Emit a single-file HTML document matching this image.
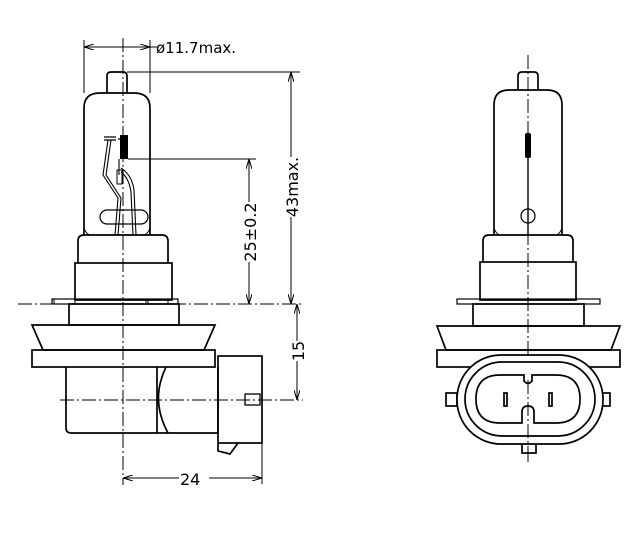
<!DOCTYPE html>
<html><head><style>html,body{margin:0;padding:0;background:#fff}svg{display:block}</style></head>
<body>
<svg width="633" height="555" viewBox="0 0 633 555" xmlns="http://www.w3.org/2000/svg" fill="none" stroke="#000" stroke-width="1.7" font-family="DejaVu Sans, Liberation Sans, sans-serif">
<defs><marker id="a" markerWidth="10" markerHeight="6" refX="10" refY="3" orient="auto-start-reverse" markerUnits="userSpaceOnUse"><path d="M0,0 L10,3 L0,6" fill="none" stroke="#000" stroke-width="1"/></marker></defs>
<g stroke-width="1" stroke-dasharray="14,3,2,3">
<line x1="123" y1="38" x2="123" y2="485"/>
<line x1="18" y1="304" x2="303" y2="304"/>
<line x1="60" y1="400" x2="303" y2="400"/>
<line x1="528" y1="55" x2="528" y2="462"/>
</g>
<!-- LEFT bulb -->
<path d="M107,93 V76 Q107,72 111,72 H123 Q127,72 127,76 V93"/>
<path d="M84,235 V108 Q84,93 100,93 H134 Q150,93 150,108 V235"/>
<path d="M84,228 Q86,234 90,235 M150,228 Q148,234 144,235" stroke-width="1"/>
<rect x="120" y="135" width="8" height="24" fill="#000" stroke="none"/>
<path d="M104,137 H116 M104,140 H116 M118,139 H120" stroke-width="1.2"/>
<path d="M108,140 L103,175 L118,198 L115,235 M111,140 L106,175 L121,198 L118,235" stroke-width="1.1"/>
<path d="M119,159 V175 M121,168 Q132,175 134,190 L136,235 M121,172 Q129,178 131,192 L133,235" stroke-width="1.1"/>
<rect x="117" y="170" width="5" height="14" stroke-width="1"/>
<rect x="100" y="210" width="48" height="14" rx="7" stroke-width="1.2"/>
<path d="M78,263 V241 Q78,235 84,235 H162 Q168,235 168,241 V263"/>
<rect x="75" y="263" width="97" height="37"/>
<rect x="52" y="299" width="126" height="5" stroke-width="1.2"/>
<path d="M54,299 V304 M75,299 V304 M146,299 V304 M148,299 V304 M168,299 V304" stroke-width="1"/>
<rect x="69" y="304" width="110" height="21"/>
<path d="M32,325 H215 L204,350 H43 Z"/>
<rect x="32" y="350" width="183" height="17"/>
<path d="M66,367 V428 Q66,433 71,433 H218 V367"/>
<path d="M157,367 V433 M166,367 Q150,400 168,433"/>
<rect x="218" y="356" width="44" height="87"/>
<rect x="245" y="394" width="15" height="11" stroke-width="1.3"/>
<path d="M218,443 V451 L230,454 L238,443"/>
<g stroke-width="1">
<line x1="84" y1="40" x2="84" y2="93"/>
<line x1="150" y1="40" x2="150" y2="93"/>
<line x1="84" y1="47" x2="150" y2="47" marker-start="url(#a)" marker-end="url(#a)"/>
<line x1="150" y1="47" x2="157" y2="47"/>
<line x1="127" y1="72" x2="300" y2="72"/>
<line x1="291" y1="72" x2="291" y2="304" marker-start="url(#a)" marker-end="url(#a)"/>
<line x1="128" y1="159" x2="256" y2="159"/>
<line x1="249" y1="159" x2="249" y2="304" marker-start="url(#a)" marker-end="url(#a)"/>
<line x1="297" y1="304" x2="297" y2="400" marker-start="url(#a)" marker-end="url(#a)"/>
<line x1="262" y1="443" x2="262" y2="484"/>
<line x1="123" y1="478" x2="262" y2="478" marker-start="url(#a)" marker-end="url(#a)"/>
</g>
<g fill="#000" stroke="none">
<text x="156" y="53" font-size="15">ø11.7max.</text>
<rect x="179" y="470" width="30" height="14" fill="#fff"/>
<text x="180" y="485" font-size="16">24</text>
<g transform="translate(256,232) rotate(-90)"><rect x="-30" y="-14" width="60" height="15" fill="#fff"/><text x="0" y="0" text-anchor="middle" font-size="16">25±0.2</text></g>
<g transform="translate(298,187) rotate(-90)"><rect x="-30" y="-14" width="60" height="15" fill="#fff"/><text x="0" y="0" text-anchor="middle" font-size="16">43max.</text></g>
<g transform="translate(304,351) rotate(-90)"><rect x="-10" y="-14" width="20" height="15" fill="#fff"/><text x="0" y="0" text-anchor="middle" font-size="16">15</text></g>
</g>
<!-- RIGHT bulb -->
<path d="M518,90 V76 Q518,72 522,72 H534 Q538,72 538,76 V90"/>
<path d="M494,235 V105 Q494,90 509,90 H547 Q562,90 562,105 V235"/>
<path d="M494,228 Q496,234 500,235 M562,228 Q560,234 556,235" stroke-width="1"/>
<rect x="525" y="133" width="6" height="25" rx="2" fill="#000" stroke="none"/>
<line x1="528" y1="158" x2="528" y2="235" stroke-width="1.4"/>
<circle cx="528" cy="216" r="7" stroke-width="1.2"/>
<path d="M483,262 V241 Q483,235 489,235 H567 Q573,235 573,241 V262"/>
<rect x="480" y="262" width="96" height="38"/>
<rect x="457" y="299" width="143" height="5" stroke-width="1.2"/>
<rect x="473" y="304" width="111" height="22"/>
<path d="M437,326 H620 L611,350 H446 Z"/>
<rect x="437" y="350" width="183" height="17"/>
<rect x="446" y="393" width="11" height="13"/>
<rect x="598" y="393" width="12" height="13"/>
<rect x="522" y="443" width="14" height="10"/>
<rect x="457" y="355" width="146" height="89" rx="44" fill="#fff"/>
<rect x="465" y="362" width="130" height="74" rx="37"/>
<path d="M500,375 H524 V381 Q528,386 532,381 V375 H556 Q580,375 580,399 Q580,423 556,423 H534 V412 Q534,406 528,406 Q522,406 522,412 V423 H500 Q476,423 476,399 Q476,375 500,375 Z"/>
<rect x="504" y="393" width="3" height="13"/>
<rect x="549" y="393" width="3" height="13"/>
<line x1="528" y1="380" x2="528" y2="462" stroke-width="1" stroke-dasharray="14,3,2,3"/>
</svg>
</body></html>
